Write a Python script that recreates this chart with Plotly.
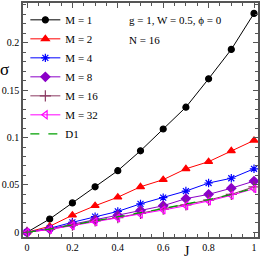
import plotly.graph_objects as go

J = [0, 0.1, 0.2, 0.3, 0.4, 0.5, 0.6, 0.7, 0.8, 0.9, 1.0]
M1 = [0, 0.014, 0.031, 0.048, 0.065, 0.086, 0.109, 0.132, 0.162, 0.193, 0.231]
M2 = [0, 0.0063, 0.018, 0.028, 0.037, 0.048, 0.0555, 0.067, 0.0745, 0.086, 0.097]
M4 = [0, 0.0042, 0.0105, 0.0165, 0.022, 0.030, 0.0365, 0.0435, 0.052, 0.057, 0.067]
M8 = [0, 0.0035, 0.0085, 0.013, 0.018, 0.023, 0.028, 0.0355, 0.040, 0.0465, 0.054]
M16 = [0, 0.003, 0.0075, 0.012, 0.0155, 0.020, 0.0245, 0.029, 0.034, 0.040, 0.048]
M32 = [0, 0.003, 0.007, 0.011, 0.015, 0.019, 0.0235, 0.028, 0.033, 0.039, 0.046]
D1 = [0, 0.0033, 0.0077, 0.012, 0.016, 0.0205, 0.025, 0.030, 0.0345, 0.040, 0.0465]

series = [
    ("M = 1", M1, "black", "circle", 6),
    ("M = 2", M2, "red", "triangle-up", 7),
    ("M = 4", M4, "blue", "asterisk-open", 7),
    ("M = 8", M8, "#8B00C8", "diamond", 7),
    ("M = 16", M16, "#8B3A62", "cross-thin-open", 8),
    ("M = 32", M32, "#FF00FF", "triangle-left-open", 7),
]

fig = go.Figure()
for name, ys, col, sym, sz in series:
    fig.add_trace(go.Scatter(
        x=J, y=ys, name=name, mode="lines+markers",
        line=dict(color=col, width=1),
        marker=dict(symbol=sym, size=sz, color=col, line=dict(color=col, width=1.2)),
    ))
fig.add_trace(go.Scatter(
    x=J, y=D1, name="D1", mode="lines",
    line=dict(color="#00A000", width=1.2, dash="dash"),
))

font_family = "Liberation Serif"
axis_common = dict(
    showline=True, linecolor="#555", linewidth=1.5, mirror="ticks",
    ticks="inside", ticklen=5, tickcolor="#555", showgrid=False, zeroline=False,
    automargin=False,
    tickfont=dict(family=font_family, size=10, color="black"),
)
fig.update_xaxes(
    range=[-0.0176, 1.0176], tickvals=[0, 0.2, 0.4, 0.6, 0.8, 1.0],
    ticktext=["0", "0.2", "0.4", "0.6", "0.8", "1"],
    minor=dict(dtick=0.05, ticks="inside", ticklen=3, tickcolor="#555"),
    **axis_common,
)
fig.update_yaxes(
    range=[-0.005, 0.242], tickvals=[0, 0.05, 0.1, 0.15, 0.2],
    ticktext=["0", "0.05", "0.1", "0.15", "0.2"],
    minor=dict(dtick=0.01, ticks="inside", ticklen=3, tickcolor="#555"),
    **axis_common,
)
# axis titles placed as in the reference
fig.add_annotation(
    xref="paper", yref="paper", x=-0.077, y=0.714, xanchor="center", yanchor="middle",
    text="σ", showarrow=False, font=dict(family=font_family, size=17, color="black"),
)
fig.add_annotation(
    xref="paper", yref="paper", x=0.698, y=-0.098, xanchor="center", yanchor="bottom",
    text="J", showarrow=False, borderpad=0,
    font=dict(family=font_family, size=14, color="black"),
)
fig.add_annotation(
    xref="x", yref="y", x=0.44, y=0.224, xanchor="left", yanchor="middle",
    text="g = 1, W = 0.5, ϕ = 0", showarrow=False,
    font=dict(family=font_family, size=11, color="black"),
)
fig.add_annotation(
    xref="x", yref="y", x=0.44, y=0.203, xanchor="left", yanchor="middle",
    text="N = 16", showarrow=False,
    font=dict(family=font_family, size=11, color="black"),
)
fig.update_layout(
    width=261, height=261,
    margin=dict(l=23, r=3, t=3, b=24),
    paper_bgcolor="white", plot_bgcolor="white",
    legend=dict(
        x=0.01, y=0.99, xanchor="left", yanchor="top",
        font=dict(family=font_family, size=11, color="black"),
        bgcolor="rgba(0,0,0,0)", tracegroupgap=0, itemwidth=30,
    ),
    showlegend=True,
)
fig.write_html("out.html", config={"displayModeBar": False},
               post_script="document.body.style.margin='0';")
